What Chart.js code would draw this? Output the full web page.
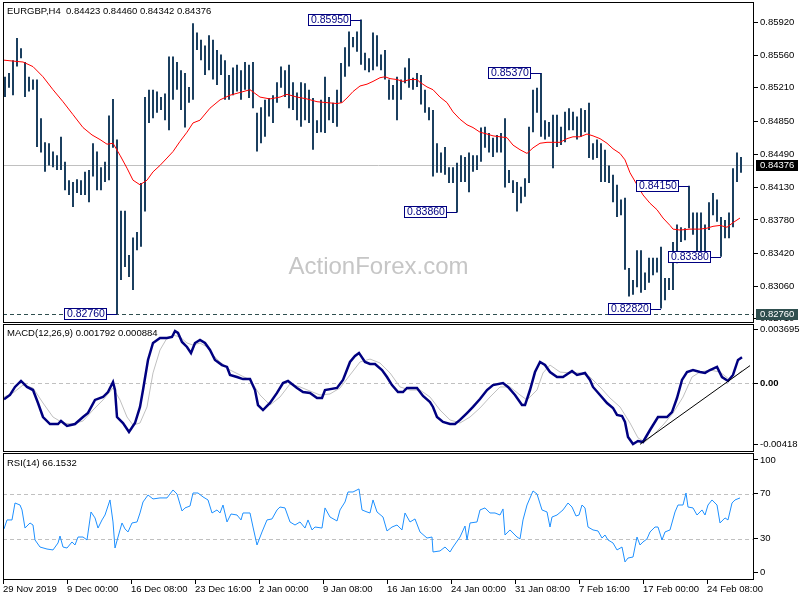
<!DOCTYPE html>
<html>
<head>
<meta charset="utf-8">
<title>EURGBP H4</title>
<script src="https://cdn.jsdelivr.net/npm/chart.js@4.4.0/dist/chart.umd.min.js"></script>
<style>
  html, body { margin: 0; padding: 0; background: #fff; }
  #wrap { position: relative; width: 800px; height: 600px; overflow: hidden; }
  canvas { position: absolute; left: 0; }
</style>
</head>
<body>
<div id="wrap">
  <canvas id="price" width="800" height="323" style="top:0"></canvas>
  <canvas id="macd" width="800" height="129" style="top:323px"></canvas>
  <canvas id="rsi" width="800" height="148" style="top:452px"></canvas>
</div>
<script>
// EURGBP H4 - each price entry is a pair of 4h bars (high / low)
const symbolTitle = 'EURGBP,H4  0.84423 0.84460 0.84342 0.84376'
const macdTitle = 'MACD(12,26,9) 0.001792 0.000884'
const rsiTitle = 'RSI(14) 66.1532'

const highs = [
  0.8533, 0.8537, 0.8551, 0.8575, 0.8564, 0.8549, 0.8533, 0.8530, 0.8530, 0.8488,
  0.8462, 0.8461, 0.8452, 0.8448, 0.8468, 0.8441, 0.8421, 0.8419, 0.8422, 0.8421,
  0.8430, 0.8432, 0.8461, 0.8452, 0.8435, 0.8441, 0.8491, 0.8509, 0.8465, 0.8388,
  0.8388, 0.8340, 0.8359, 0.8365, 0.8418, 0.8511, 0.8519, 0.8519, 0.8517, 0.8511,
  0.8515, 0.8555, 0.8555, 0.8549, 0.8540, 0.8537, 0.8522, 0.8591, 0.8581, 0.8573,
  0.8567, 0.8578, 0.8573, 0.8562, 0.8557, 0.8551, 0.8535, 0.8543, 0.8546, 0.8540,
  0.8549, 0.8546, 0.8549, 0.8494, 0.8500, 0.8508, 0.8510, 0.8513, 0.8527, 0.8544,
  0.8540, 0.8546, 0.8527, 0.8516, 0.8527, 0.8526, 0.8519, 0.8510, 0.8486, 0.8508,
  0.8533, 0.8511, 0.8505, 0.8519, 0.8548, 0.8565, 0.8582, 0.8576, 0.8582, 0.8595,
  0.8559, 0.8553, 0.8581, 0.8578, 0.8557, 0.8562, 0.8530, 0.8524, 0.8533, 0.8530,
  0.8543, 0.8553, 0.8532, 0.8537, 0.8535, 0.8519, 0.8500, 0.8497, 0.8461, 0.8451,
  0.8457, 0.8435, 0.8435, 0.8440, 0.8448, 0.8446, 0.8451, 0.8448, 0.8448, 0.8478,
  0.8479, 0.8472, 0.8467, 0.8470, 0.8472, 0.8488, 0.8432, 0.8421, 0.8419, 0.8414,
  0.8423, 0.8479, 0.8519, 0.8521, 0.8537, 0.8486, 0.8484, 0.8492, 0.8492, 0.8479,
  0.8495, 0.8499, 0.8495, 0.8490, 0.8499, 0.8497, 0.8505, 0.8461, 0.8465, 0.8461,
  0.8454, 0.8437, 0.8427, 0.8416, 0.8400, 0.8402, 0.8326, 0.8313, 0.8345, 0.8345,
  0.8321, 0.8337, 0.8337, 0.8337, 0.8349, 0.8315, 0.8315, 0.8354, 0.8373, 0.8370,
  0.8369, 0.8415, 0.8386, 0.8386, 0.8386, 0.8373, 0.8397, 0.8407, 0.8400, 0.8381,
  0.8378, 0.8386, 0.8434, 0.8451, 0.8446
]
const lows = [
  0.8511, 0.8521, 0.8513, 0.8544, 0.8553, 0.8511, 0.8517, 0.8519, 0.8457, 0.8451,
  0.8430, 0.8437, 0.8435, 0.8432, 0.8432, 0.8410, 0.8405, 0.8392, 0.8407, 0.8405,
  0.8405, 0.8397, 0.8425, 0.8410, 0.8410, 0.8419, 0.8421, 0.8456, 0.8276, 0.8313,
  0.8327, 0.8316, 0.8302, 0.8345, 0.8349, 0.8387, 0.8483, 0.8488, 0.8494, 0.8497,
  0.8486, 0.8475, 0.8508, 0.8519, 0.8497, 0.8478, 0.8505, 0.8508, 0.8562, 0.8551,
  0.8535, 0.8540, 0.8530, 0.8524, 0.8535, 0.8508, 0.8508, 0.8513, 0.8517, 0.8508,
  0.8519, 0.8510, 0.8499, 0.8452, 0.8461, 0.8468, 0.8490, 0.8483, 0.8505, 0.8521,
  0.8511, 0.8499, 0.8497, 0.8486, 0.8479, 0.8486, 0.8483, 0.8454, 0.8472, 0.8473,
  0.8472, 0.8486, 0.8483, 0.8479, 0.8505, 0.8533, 0.8544, 0.8565, 0.8560, 0.8546,
  0.8540, 0.8538, 0.8540, 0.8544, 0.8540, 0.8530, 0.8508, 0.8508, 0.8486, 0.8508,
  0.8526, 0.8521, 0.8519, 0.8522, 0.8503, 0.8494, 0.8486, 0.8425, 0.8429, 0.8429,
  0.8427, 0.8418, 0.8418, 0.8386, 0.8419, 0.8419, 0.8408, 0.8430, 0.8432, 0.8441,
  0.8456, 0.8451, 0.8446, 0.8451, 0.8451, 0.8413, 0.8418, 0.8407, 0.8387, 0.8396,
  0.8403, 0.8418, 0.8473, 0.8494, 0.8468, 0.8465, 0.8468, 0.8434, 0.8457, 0.8459,
  0.8462, 0.8475, 0.8475, 0.8465, 0.8468, 0.8473, 0.8445, 0.8443, 0.8445, 0.8419,
  0.8419, 0.8418, 0.8397, 0.8381, 0.8383, 0.8324, 0.8295, 0.8297, 0.8305, 0.8299,
  0.8302, 0.8310, 0.8318, 0.8321, 0.8282, 0.8291, 0.8302, 0.8302, 0.8331, 0.8354,
  0.8356, 0.8369, 0.8362, 0.8337, 0.8335, 0.8337, 0.8367, 0.8383, 0.8376, 0.8338,
  0.8358, 0.8358, 0.8370, 0.8419, 0.8429
]

// moving average, read at bar positions (bar index)
const maX = [0, 4.5, 9.5, 14.5, 19.5, 24.5, 29.5, 34.5, 39.5, 44, 48, 51.5, 54.5, 58, 61.5, 64.5, 68, 71.5, 74.5, 78,
  81.5, 84.5, 88, 91.5, 94.5, 98, 103, 108, 113, 118, 123, 128, 133, 138, 141.5, 146.5, 151.5, 156.5, 161.5, 166.5,
  169, 171.5, 174.5, 178, 181.5, 184.5, 188, 190.5, 193, 196.5, 199.5, 203, 206.5, 208, 211.5, 214.5, 218, 221.5, 224.5, 228,
  231.5, 234.5, 238, 241.5, 244.5, 248, 251.5, 254.5, 258, 261.5, 264.5, 268, 271.5, 274.5, 278, 281.5, 284.5, 288, 291.5, 294.5,
  298, 301.5, 304.5, 308, 310.5, 313, 316.5, 319.5, 323, 326.5, 329.5, 333, 334.5, 338, 343, 348, 351.5, 354.5, 358, 361.5,
  364.5, 368]
const maVal = [0.8551, 0.8550, 0.8549, 0.8544, 0.8533, 0.8519, 0.8506, 0.8492, 0.8478, 0.8470, 0.8465, 0.8460, 0.8461, 0.8448, 0.8434, 0.8421, 0.8416, 0.8421, 0.8430, 0.8437,
  0.8445, 0.8452, 0.8463, 0.8473, 0.8483, 0.8486, 0.8499, 0.8508, 0.8513, 0.8516, 0.8519, 0.8511, 0.8509, 0.8511, 0.8514, 0.8511, 0.8509, 0.8506, 0.8505, 0.8504,
  0.8505, 0.8510, 0.8517, 0.8523, 0.8525, 0.8528, 0.8532, 0.8533, 0.8531, 0.8530, 0.8528, 0.8530, 0.8530, 0.8527, 0.8522, 0.8519, 0.8511, 0.8505, 0.8495, 0.8487,
  0.8481, 0.8478, 0.8473, 0.8471, 0.8469, 0.8468, 0.8467, 0.8459, 0.8454, 0.8450, 0.8456, 0.8461, 0.8462, 0.8462, 0.8462, 0.8466, 0.8468, 0.8468, 0.8471, 0.8469,
  0.8466, 0.8461, 0.8455, 0.8450, 0.8443, 0.8429, 0.8416, 0.8405, 0.8396, 0.8389, 0.8380, 0.8372, 0.8368, 0.8367, 0.8368, 0.8368, 0.8369, 0.8371, 0.8372, 0.8370,
  0.8375, 0.8380]

const macdX = [0, 3, 5.5, 8.5, 11.5, 14.5, 17, 19.5, 23, 27, 28.5, 31.5, 35.5, 39.5, 42, 45.5, 49.5, 52, 54.5, 55.5,
  56.5, 59.5, 62.5, 65.5, 68, 69.5, 72, 74.5, 78, 81.5, 84, 85.5, 87, 89, 91.5, 93.5, 95.5, 98, 100.5, 103,
  105.5, 109, 111.5, 113, 116.5, 119.5, 123, 125.5, 127, 129.5, 133, 136.5, 139.5, 142, 146.5, 149.5, 153, 156.5, 159, 160.5,
  166.5, 169.5, 173, 175.5, 177.5, 180.5, 183, 185.5, 189, 191.5, 194, 197, 199.5, 201.5, 206.5, 209.5, 213, 214.5, 216.5, 219.5,
  223, 225.5, 228, 231.5, 234.5, 238, 241.5, 244.5, 249.5, 252, 255.5, 259, 260.5, 263, 265.5, 268, 270.5, 273, 276.5, 279.5,
  284, 286.5, 290.5, 293, 294.5, 298, 301.5, 304.5, 306.5, 309, 310.5, 312, 314.5, 317, 319.5, 323, 327, 331.5, 334, 336.5,
  339, 341.5, 344.5, 348, 350.5, 353, 356.5, 359, 362, 364.5, 367, 369]
const macdMain = [-0.00110, -0.00080, -0.00025, 0.00016, -0.00025, -0.00046, -0.00135, -0.00231, -0.00279, -0.00279,
  -0.00258, -0.00292, -0.00279, -0.00231, -0.00203, -0.00114, -0.00094, -0.00060, 0.00009, -0.00046,
  -0.00231, -0.00272, -0.00334, -0.00272, -0.00162, -0.00046, 0.00160, 0.00276, 0.00310, 0.00310,
  0.00317, 0.00358, 0.00345, 0.00283, 0.00249, 0.00207, 0.00276, 0.00297, 0.00276, 0.00228,
  0.00160, 0.00125, 0.00112, 0.00057, 0.00043, 0.00029, 0.00029, -0.00046, -0.00149, -0.00183,
  -0.00135, -0.00066, 0.00002, 0.00016, -0.00032, -0.00060, -0.00066, -0.00101, -0.00101, -0.00046,
  -0.00032, 0.00023, 0.00146, 0.00187, 0.00208, 0.00146, 0.00132, 0.00132, 0.00091, 0.00043,
  -0.00012, -0.00060, -0.00060, -0.00032, -0.00032, -0.00087, -0.00128, -0.00162, -0.00231, -0.00265,
  -0.00279, -0.00279, -0.00251, -0.00204, -0.00162, -0.00108, -0.00046, -0.00012, 0.00002, -0.00025,
  -0.00080, -0.00149, -0.00149, -0.00046, 0.00077, 0.00146, 0.00125, 0.00077, 0.00043, 0.00043,
  0.00084, 0.00057, 0.00071, 0.00023, -0.00025, -0.00080, -0.00135, -0.00169, -0.00217, -0.00224,
  -0.00265, -0.00368, -0.00416, -0.00395, -0.00402, -0.00320, -0.00231, -0.00231, -0.00197, -0.00101,
  0.00023, 0.00077, 0.00091, 0.00077, 0.00071, 0.00091, 0.00112, 0.00043, 0.00016, 0.00057,
  0.00160, 0.00179]

const signalX = [0, 4.5, 9.5, 14.5, 19.5, 24.5, 29.5, 34.5, 39.5, 44.5, 49.5, 54.5, 58, 61.5, 64.5, 68, 71.5, 74.5, 78, 81.5,
  84.5, 88, 91.5, 94.5, 98, 101.5, 104.5, 108, 113, 118, 123, 128, 133, 138, 143, 148, 153, 158, 163, 168,
  173, 178, 183, 188, 193, 198, 203, 208, 213, 218, 223, 228, 233, 238, 243, 248, 253, 258, 261.5, 266.5,
  269.5, 273, 278, 283, 288, 293, 298, 303, 308, 313, 317, 320.5, 324.5, 329.5, 334.5, 339.5, 344, 348, 353, 358,
  363, 366.5, 369]
const signalVal = [-0.00094, -0.00066, -0.00012, -0.00032, -0.00135, -0.00231, -0.00272, -0.00279, -0.00258, -0.00183,
  -0.00114, -0.00032, -0.00114, -0.00231, -0.00286, -0.00272, -0.00162, 0.00071, 0.00228, 0.00310,
  0.00331, 0.00317, 0.00276, 0.00262, 0.00276, 0.00249, 0.00194, 0.00146, 0.00091, 0.00057,
  0.00023, -0.00080, -0.00149, -0.00094, -0.00005, -0.00025, -0.00053, -0.00080, -0.00073, -0.00032,
  0.00057, 0.00146, 0.00166, 0.00139, 0.00071, -0.00025, -0.00046, -0.00046, -0.00094, -0.00183,
  -0.00251, -0.00272, -0.00231, -0.00169, -0.00094, -0.00025, -0.00025, -0.00080, -0.00114, -0.00046,
  0.00071, 0.00125, 0.00077, 0.00071, 0.00071, 0.00043, -0.00025, -0.00101, -0.00162, -0.00272,
  -0.00374, -0.00402, -0.00354, -0.00286, -0.00204, -0.00094, 0.00043, 0.00077, 0.00091, 0.00077,
  0.00023, 0.00057, 0.00088]

// hand drawn trend line on the MACD panel (bar index, value)
const trendX = [318, 373]
const trendVal = [-0.00418, 0.00121]

const rsiX = [0, 1.5, 4, 5.5, 8, 9, 10.5, 13, 14.5, 15.5, 18, 21.5, 24.5, 27, 28, 29.5, 31.5, 34, 35.5, 37,
  39.5, 41.5, 43.5, 45.5, 47, 49, 50.5, 53, 54.5, 55.5, 57, 59, 60.5, 62, 64, 66.5, 68, 69.5, 72, 74.5,
  78, 81.5, 84.5, 86.5, 89, 90.5, 93, 94.5, 97, 99.5, 102, 104, 106.5, 108, 109.5, 111.5, 113.5, 116.5, 118.5, 119.5,
  123, 124.5, 126.5, 129, 131.5, 134, 136.5, 138, 140.5, 143, 145.5, 148, 150.5, 152, 154, 155.5, 159, 160.5, 163, 166.5,
  168, 170.5, 172, 174.5, 177.5, 179, 181.5, 183, 184.5, 186.5, 189.5, 191.5, 194, 196.5, 199, 200.5, 203, 205.5, 208, 211.5,
  214, 214.5, 218, 220.5, 223, 224.5, 228, 230.5, 231.5, 233, 236.5, 238, 240.5, 243, 245.5, 248, 249.5, 250.5, 253, 256.5,
  258, 259.5, 261.5, 264.5, 266.5, 269, 271.5, 273, 274, 276.5, 279.5, 282, 284, 286, 287.5, 289, 290.5, 292, 294.5, 297,
  299, 300.5, 302, 304.5, 306.5, 309, 310.5, 312, 314.5, 316.5, 318, 319.5, 321.5, 323, 325.5, 327, 329, 330.5, 333, 335.5,
  337, 339.5, 341, 342, 344.5, 346.5, 349, 350.5, 352, 354, 356.5, 358, 360.5, 362, 364, 365.5, 368]
const rsiVal = [38.6, 46.6, 46.6, 61.7, 59.9, 55.5, 39.4, 43.9, 42.1, 28.8, 22.5, 20.7, 19.9, 26.1, 32.3, 22.5, 21.6, 27.0, 24.3, 31.4,
  31.4, 28.8, 53.7, 48.4, 39.4, 46.6, 51.0, 64.4, 44.8, 21.6, 31.4, 43.9, 38.6, 35.9, 43.9, 44.8, 52.8, 62.6, 68.8, 65.3,
  66.2, 66.2, 73.3, 69.7, 54.6, 57.3, 59.0, 70.6, 70.6, 67.1, 64.4, 52.8, 55.5, 52.8, 59.9, 44.8, 51.9, 51.0, 46.6, 52.8,
  52.8, 40.3, 24.3, 35.9, 46.6, 47.5, 55.5, 58.1, 57.3, 44.8, 42.1, 44.8, 39.4, 46.6, 37.7, 40.3, 39.4, 57.3, 49.2, 45.7,
  55.5, 62.6, 71.5, 71.5, 74.2, 55.5, 53.7, 52.8, 64.4, 53.7, 49.2, 36.8, 40.3, 42.1, 37.7, 52.8, 44.8, 47.5, 35.9, 30.5,
  31.4, 18.1, 19.0, 22.5, 18.1, 22.5, 31.4, 41.2, 28.8, 43.9, 44.8, 55.5, 57.3, 52.8, 52.8, 51.0, 56.4, 33.2, 37.7, 31.4,
  29.7, 46.6, 59.9, 72.4, 69.7, 55.5, 53.7, 40.3, 49.2, 51.0, 55.5, 61.7, 58.1, 50.1, 51.0, 59.9, 57.3, 40.3, 37.7, 36.8,
  30.5, 33.2, 28.8, 26.1, 19.9, 22.5, 9.2, 12.7, 13.6, 31.4, 24.3, 27.0, 29.7, 35.9, 40.3, 40.3, 28.8, 35.9, 37.7, 53.7,
  59.9, 59.9, 70.6, 58.1, 57.3, 51.0, 55.5, 51.0, 59.9, 64.4, 59.9, 43.9, 48.4, 46.6, 61.7, 64.4, 66.2]

// swing labels: price entry index and level
const markGroups = [89, 134, 113, 171, 179, 164, 28]
const markPrices = [0.8595, 0.8537, 0.8386, 0.8415, 0.8338, 0.8282, 0.8276]
const lastClose = 0.84376
const swingLow = 0.8276

const priceTicks = [0.8592, 0.8556, 0.8521, 0.8485, 0.8449, 0.8413, 0.8378, 0.8342, 0.8306, 0.8271]
const macdTicks = [0.003695, 0, -0.00418]
const macdTickLabels = ['0.003695', '0.00', '-0.00418']
const rsiTicks = [100, 70, 30, 0]
const rsiLevels = [70, 30]
const timeTickBars = [0, 32, 64, 96, 128, 160, 192, 224, 256, 288, 320, 352]
const timeTickLabels = ['29 Nov 2019', '9 Dec 00:00', '16 Dec 08:00', '23 Dec 16:00', '2 Jan 00:00', '9 Jan 08:00',
  '16 Jan 16:00', '24 Jan 00:00', '31 Jan 08:00', '7 Feb 16:00', '17 Feb 00:00', '24 Feb 08:00']

const FONT = '"Liberation Sans", Arial, sans-serif'
const AXIS_FONT = { family: FONT, size: 9.5 }
const X_MIN = -0.5
const X_MAX = 375

const pairs = (xs, ys) => xs.map((x, i) => ({ x, y: ys[i] }))

function frame(chart) {
  const { ctx, chartArea: a } = chart
  ctx.save()
  ctx.strokeStyle = '#000'
  ctx.lineWidth = 1
  ctx.strokeRect(a.left + 0.5, a.top + 0.5, a.right - a.left - 1, a.bottom - a.top - 1)
  ctx.restore()
}

function levelLine(chart, value, color, dash) {
  const { ctx, chartArea: a, scales: { y } } = chart
  const py = Math.round(y.getPixelForValue(value)) + 0.5
  ctx.save()
  ctx.strokeStyle = color
  ctx.lineWidth = 1
  ctx.setLineDash(dash || [])
  ctx.beginPath()
  ctx.moveTo(a.left, py)
  ctx.lineTo(a.right, py)
  ctx.stroke()
  ctx.restore()
}

function panelText(chart, text, y) {
  const { ctx } = chart
  ctx.save()
  ctx.fillStyle = '#000'
  ctx.font = '9.5px ' + FONT
  ctx.textBaseline = 'middle'
  ctx.fillText(text, 7, y)
  ctx.restore()
}

function axisTag(chart, value, bg) {
  const { ctx, scales: { y } } = chart
  const py = Math.round(y.getPixelForValue(value))
  ctx.save()
  ctx.fillStyle = bg
  ctx.fillRect(756, py - 5, 42, 11)
  ctx.fillStyle = '#fff'
  ctx.font = '9.5px ' + FONT
  ctx.textBaseline = 'middle'
  ctx.fillText(value.toFixed(5), 760, py + 0.5)
  ctx.restore()
}

function rightAxis(min, max, values, format, font) {
  return {
    type: 'linear',
    position: 'right',
    min,
    max,
    afterBuildTicks: s => { s.ticks = values.map(v => ({ value: v })) },
    afterFit: s => { s.width = 46; s.paddingTop = 0; s.paddingBottom = 0 },
    border: { display: false },
    grid: { drawOnChartArea: false, tickLength: 4, tickColor: '#000' },
    ticks: { color: '#000', padding: 2, autoSkip: false, font: font || AXIS_FONT, callback: format }
  }
}

const hiddenX = { type: 'linear', display: false, min: X_MIN, max: X_MAX, offset: false }

function baseOptions(top, scales) {
  return {
    responsive: false,
    animation: false,
    devicePixelRatio: 1,
    events: [],
    layout: { padding: { left: 3, top, right: 0, bottom: 0 } },
    plugins: { legend: { display: false }, tooltip: { enabled: false } },
    scales
  }
}

// price panel
const priceOverlay = {
  id: 'priceOverlay',
  beforeDatasetsDraw(chart) {
    const { ctx, chartArea: a } = chart
    ctx.save()
    ctx.fillStyle = '#c6c6c6'
    ctx.font = '24px ' + FONT
    ctx.textAlign = 'center'
    ctx.textBaseline = 'middle'
    ctx.fillText('ActionForex.com', (a.left + a.right) / 2, 267)
    ctx.restore()
    levelLine(chart, lastClose, '#c0c0c0')
    levelLine(chart, swingLow, '#2f4f4f', [4, 3])
  },
  afterDatasetsDraw(chart) {
    const { ctx, scales: { x, y } } = chart
    ctx.save()
    ctx.font = '10.5px ' + FONT
    ctx.textBaseline = 'middle'
    ctx.lineWidth = 1
    markGroups.forEach((g, i) => {
      const px = Math.round(x.getPixelForValue(2 * g + 0.5))
      const py = Math.round(y.getPixelForValue(markPrices[i]))
      const text = markPrices[i].toFixed(5)
      const w = Math.ceil(ctx.measureText(text).width) + 5
      const right = px - 10
      ctx.fillStyle = '#fff'
      ctx.fillRect(right - w, py - 6, w, 12)
      ctx.strokeStyle = '#000080'
      ctx.strokeRect(right - w + 0.5, py - 5.5, w - 1, 11)
      ctx.beginPath()
      ctx.moveTo(right, py + 0.5)
      ctx.lineTo(px, py + 0.5)
      ctx.stroke()
      ctx.fillStyle = '#000080'
      ctx.fillText(text, right - w + 3, py + 0.5)
    })
    ctx.restore()
  },
  afterDraw(chart) {
    frame(chart)
    panelText(chart, symbolTitle, 11)
    axisTag(chart, lastClose, '#000')
    axisTag(chart, swingLow, '#2f4f4f')
  }
}

new Chart(document.getElementById('price'), {
  type: 'bar',
  data: {
    datasets: [
      {
        type: 'line',
        data: pairs(maX, maVal),
        borderColor: '#ff0000',
        borderWidth: 1,
        pointRadius: 0,
        tension: 0,
        order: 0
      },
      {
        type: 'bar',
        data: highs.map((h, i) => ({ x: 2 * i + 0.5, y: [lows[i], h] })),
        backgroundColor: '#1b3f5f',
        borderWidth: 0,
        barThickness: 2,
        inflateAmount: 0,
        order: 1
      }
    ]
  },
  options: baseOptions(2, {
    x: hiddenX,
    y: rightAxis(0.82663, 0.86140, priceTicks, v => v.toFixed(5))
  }),
  plugins: [priceOverlay]
})

// MACD panel
const macdOverlay = {
  id: 'macdOverlay',
  beforeDatasetsDraw(chart) { levelLine(chart, 0, '#c0c0c0', [4, 3]) },
  afterDraw(chart) {
    frame(chart)
    panelText(chart, macdTitle, 10)
  }
}

new Chart(document.getElementById('macd'), {
  type: 'line',
  data: {
    datasets: [
      { data: pairs(trendX, trendVal), borderColor: '#000', borderWidth: 1, pointRadius: 0, order: 0 },
      { data: pairs(macdX, macdMain), borderColor: '#000080', borderWidth: 2.5, pointRadius: 0, tension: 0, order: 1 },
      { data: pairs(signalX, signalVal), borderColor: '#c0c0c0', borderWidth: 1, pointRadius: 0, tension: 0, order: 2 }
    ]
  },
  options: baseOptions(1, {
    x: hiddenX,
    y: rightAxis(-0.004706, 0.004062, macdTicks, (v, i) => macdTickLabels[i],
      ctx => ({ family: FONT, size: 9.5, weight: ctx.tick && ctx.tick.value === 0 ? 'bold' : 'normal' }))
  }),
  plugins: [macdOverlay]
})

// RSI panel with the time axis
const rsiOverlay = {
  id: 'rsiOverlay',
  beforeDatasetsDraw(chart) { rsiLevels.forEach(v => levelLine(chart, v, '#c0c0c0', [4, 3])) },
  afterDraw(chart) {
    frame(chart)
    panelText(chart, rsiTitle, 11)
  }
}

new Chart(document.getElementById('rsi'), {
  type: 'line',
  data: {
    datasets: [
      { data: pairs(rsiX, rsiVal), borderColor: '#1e90ff', borderWidth: 1, pointRadius: 0, tension: 0 }
    ]
  },
  options: baseOptions(1, {
    x: {
      type: 'linear',
      min: X_MIN,
      max: X_MAX,
      offset: false,
      afterBuildTicks: s => { s.ticks = timeTickBars.map(b => ({ value: b - 0.5 })) },
      afterFit: s => { s.height = 20; s.paddingLeft = 0; s.paddingRight = 0 },
      border: { display: false },
      grid: { drawOnChartArea: false, tickLength: 4, tickColor: '#000' },
      ticks: {
        color: '#000', font: AXIS_FONT, padding: 0, align: 'start', autoSkip: false,
        maxRotation: 0, minRotation: 0, callback: (v, i) => timeTickLabels[i]
      }
    },
    y: rightAxis(-6.86, 106.2, rsiTicks, v => String(v))
  }),
  plugins: [rsiOverlay]
})
</script>
</body>
</html>
